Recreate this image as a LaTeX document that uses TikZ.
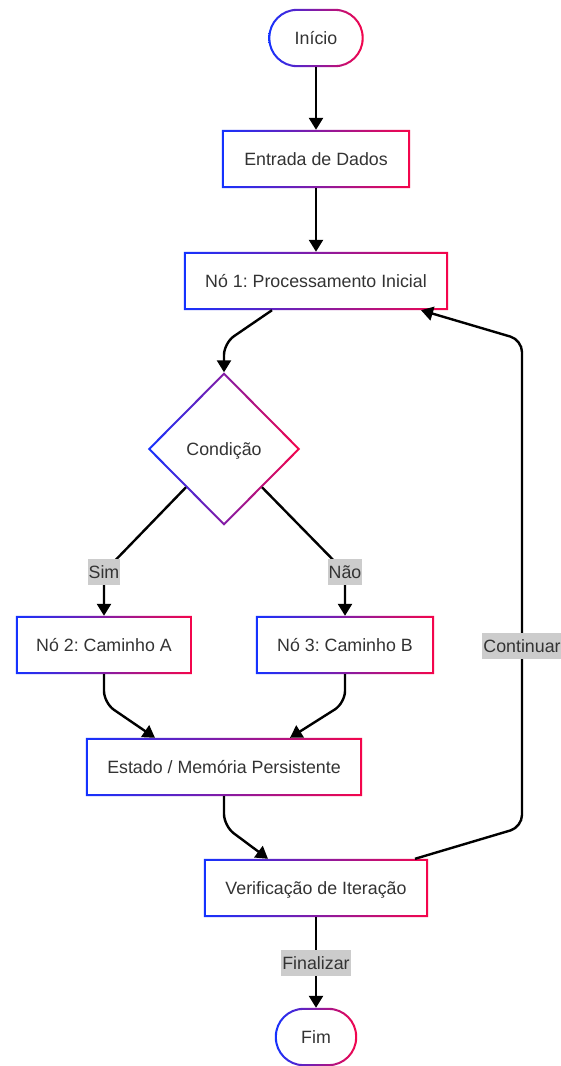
\documentclass[tikz,border=0pt]{standalone}
\usepackage{fontspec}
\setmainfont{Liberation Sans}
\frenchspacing
\usetikzlibrary{arrows.meta,shapes.geometric}
\definecolor{gblue}{RGB}{20,50,255}
\definecolor{gred}{RGB}{245,5,75}
\definecolor{txt}{RGB}{51,51,51}
\definecolor{lblgray}{RGB}{204,204,204}

\tikzset{
  lbfont/.style={font=\fontsize{17.8}{21}\selectfont, text height=16.5pt, text depth=3.7pt},
  box/.style={rectangle, fill=white, inner sep=0pt, minimum height=58pt, text=txt, lbfont},
  dec/.style={diamond, fill=white, inner sep=0pt, minimum width=152pt, minimum height=153pt, text=txt, lbfont},
  edge/.style={line width=2.4pt, black, -{Triangle[width=14pt,length=12pt]}, rounded corners=12pt},
  lbl/.style={fill=lblgray, text=txt, inner xsep=1pt, inner ysep=3pt, lbfont},
  grad/.style={left color=gblue, right color=gred, even odd rule},
}

% gradient rings drawn over the node outlines
\newcommand\rectborder[1]{%
  \shade[grad] (#1.south west) rectangle (#1.north east)
    ([shift={(2pt,2pt)}]#1.south west) rectangle ([shift={(-2pt,-2pt)}]#1.north east);}
\newcommand\termborder[1]{%
  \shade[grad] [rounded corners=28.9pt] (#1.south west) rectangle (#1.north east)
    [rounded corners=26.9pt] ([shift={(2pt,2pt)}]#1.south west) rectangle ([shift={(-2pt,-2pt)}]#1.north east);}
\newcommand\diaborder[1]{%
  \shade[grad] (#1.north) -- (#1.east) -- (#1.south) -- (#1.west) -- cycle
    ([yshift=-2.8pt]#1.north) -- ([xshift=-2.8pt]#1.east) -- ([yshift=2.8pt]#1.south) -- ([xshift=2.8pt]#1.west) -- cycle;}

\begin{document}
\begin{tikzpicture}[x=1pt,y=-1pt]
\useasboundingbox[fill=white] (0,0) rectangle (561,1066);

% nodes
\node[box, minimum width=95pt]  (start) at (316,38)  {Início};
\node[box, minimum width=188pt] (entrada) at (316,159) {Entrada de Dados};
\node[box, minimum width=264pt] (n1) at (316,281) {Nó 1: Processamento Inicial};
\node[dec] (cond) at (224,449) {Condição};
\node[box, minimum width=176pt] (na) at (104,645) {Nó 2: Caminho A};
\node[box, minimum width=178pt] (nb) at (345,645) {Nó 3: Caminho B};
\node[box, minimum width=276pt] (est) at (224,767) {Estado / Memória Persistente};
\node[box, minimum width=224pt] (ver) at (316,888) {Verificação de Iteração};
\node[box, minimum width=82pt]  (fim) at (316,1037) {Fim};

\termborder{start}
\rectborder{entrada}
\rectborder{n1}
\diaborder{cond}
\rectborder{na}
\rectborder{nb}
\rectborder{est}
\rectborder{ver}
\termborder{fim}

% bend points
\coordinate (k1) at (224,343);
\coordinate (psim) at (104,572);
\coordinate (pnao) at (345,572);
\coordinate (k2) at (104,703);
\coordinate (k3) at (345,703);
\coordinate (k4) at (224,826);
\coordinate (c1) at (522,827);
\coordinate (c2) at (522,340);
\coordinate (pcont) at (522,646);
\coordinate (pfin) at (316,963);

% connectors
\draw[edge] (start) -- (entrada);
\draw[edge] (entrada) -- (n1);
\draw[edge] ([xshift=-44pt]n1.south) -- (k1) -- (cond.north);
\draw[edge] (cond.south west) -- (psim) -- (na.north);
\draw[edge] (cond.south east) -- (pnao) -- (nb.north);
\draw[edge] (na.south) -- (k2) -- ([xshift=-69pt]est.north);
\draw[edge] (nb.south) -- (k3) -- ([xshift=66pt]est.north);
\draw[edge] (est.south) -- (k4) -- ([xshift=-48pt]ver.north);
\draw[edge] ([xshift=99pt]ver.north) -- (c1) -- (c2) -- ([xshift=105pt]n1.south);
\draw[edge] (ver) -- (fim);

% connector labels
\node[lbl] (lsim) at (psim) {Sim};
\node[lbl] (lnao) at (pnao) {Não};
\node[lbl] (lcont) at (pcont) {Continuar};
\node[lbl] (lfin) at (pfin) {Finalizar};
\end{tikzpicture}
\end{document}
